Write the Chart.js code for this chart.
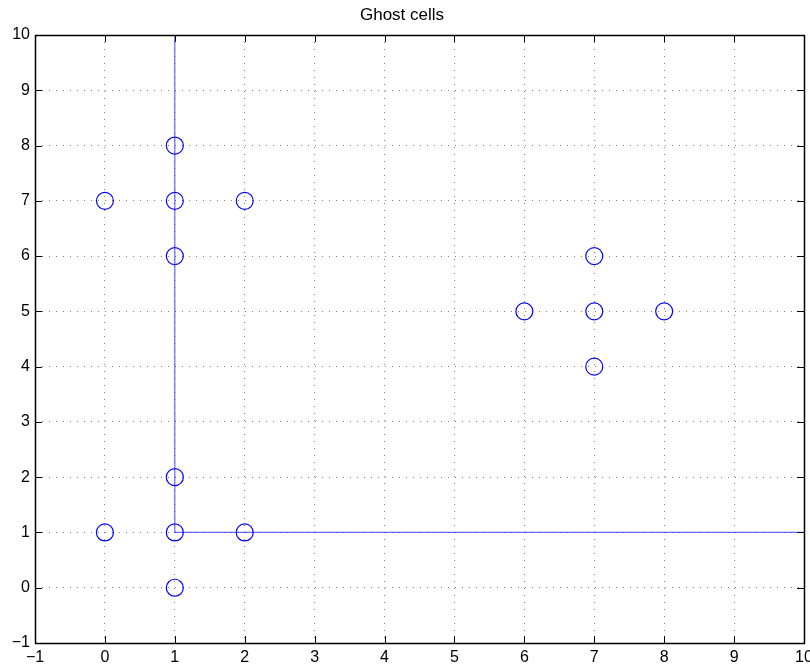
<!DOCTYPE html>
<html>
<head>
<meta charset="utf-8">
<script src="https://cdn.jsdelivr.net/npm/chart.js@4/dist/chart.umd.min.js"></script>
<style>
  html, body { margin: 0; padding: 0; background: #fff; }
  #wrap { width: 810px; height: 668px; }
</style>
</head>
<body>
<div id="wrap"><canvas id="myChart"></canvas></div>
<script>
// ghost cell centres
const ghostX = [0, 1, 1, 2, 1, 0, 1, 2, 1, 1, 7, 6, 7, 8, 7];
const ghostY = [7, 8, 7, 7, 6, 1, 1, 1, 2, 0, 6, 5, 5, 5, 4];

// boundary line (L shape)
const lineX = [1, 1, 10];
const lineY = [10, 1, 1];

const axisMin = -1;
const axisMax = 10;

const fmt = v => (v < 0 ? '\u2212' + Math.abs(v) : String(v));

// box + inward ticks, MATLAB style
const boxPlugin = {
    id: 'box',
    afterDraw(chart) {
        const {ctx, chartArea: a, scales: {x, y}} = chart;
        ctx.save();
        ctx.strokeStyle = '#000';
        ctx.lineWidth = 1;
        ctx.beginPath();
        const len = 7;
        x.ticks.forEach(t => {
            const px = Math.round(x.getPixelForValue(t.value)) + 0.5;
            ctx.moveTo(px, a.bottom); ctx.lineTo(px, a.bottom - len);
            ctx.moveTo(px, a.top); ctx.lineTo(px, a.top + len);
        });
        y.ticks.forEach(t => {
            const py = Math.round(y.getPixelForValue(t.value)) + 0.5;
            ctx.moveTo(a.left, py); ctx.lineTo(a.left + len, py);
            ctx.moveTo(a.right, py); ctx.lineTo(a.right - len, py);
        });
        ctx.stroke();
        ctx.lineWidth = 1.5;
        ctx.strokeRect(Math.round(a.left) + 0.5, Math.round(a.top) + 0.5,
            Math.round(a.right - a.left), Math.round(a.bottom - a.top));
        ctx.restore();
    }
};

const data = {
    datasets: [{
        label: 'boundary',
        data: lineX.map((v, i) => ({x: v, y: lineY[i]})),
        showLine: true,
        borderColor: 'rgba(40,40,255,0.7)',
        borderWidth: 1.2,
        pointRadius: 0,
        fill: false
    }, {
        label: 'ghost',
        data: ghostX.map((v, i) => ({x: v, y: ghostY[i]})),
        showLine: false,
        pointStyle: 'circle',
        pointRadius: 8.5,
        pointBorderWidth: 1.2,
        pointBorderColor: '#0000ff',
        pointBackgroundColor: 'rgba(0,0,0,0)'
    }]
};

const tickFont = {family: '"Liberation Sans", Arial, sans-serif', size: 16};

new Chart(document.getElementById('myChart'), {
    type: 'scatter',
    data: data,
    options: {
        responsive: true,
        maintainAspectRatio: false,
        animation: false,
        layout: {autoPadding: false, padding: {left: 0, right: 6, top: 0, bottom: 0}},
        plugins: {
            legend: {display: false},
            tooltip: {enabled: false},
            title: {
                display: true,
                text: 'Ghost cells',
                color: '#000',
                font: {family: '"Liberation Sans", Arial, sans-serif', size: 17, weight: 'normal'},
                padding: {top: 5, bottom: 9.6}
            }
        },
        scales: {
            x: {
                type: 'linear',
                min: axisMin,
                max: axisMax,
                ticks: {stepSize: 1, color: '#000', font: tickFont, padding: 5, maxRotation: 0, callback: fmt},
                grid: {color: 'rgba(0,0,0,0.5)', drawTicks: false, lineWidth: 1},
                border: {display: false, dash: [1, 6]},
                afterFit(s) { s.height = 25; s.paddingLeft = 0; s.paddingRight = 0; }
            },
            y: {
                type: 'linear',
                min: axisMin,
                max: axisMax,
                ticks: {stepSize: 1, color: '#000', font: tickFont, padding: 5, callback: fmt},
                grid: {color: 'rgba(0,0,0,0.5)', drawTicks: false, lineWidth: 1},
                border: {display: false, dash: [1, 6]},
                afterFit(s) { s.width = 35; s.paddingTop = 0; s.paddingBottom = 0; }
            }
        }
    },
    plugins: [boxPlugin]
});
</script>
</body>
</html>
